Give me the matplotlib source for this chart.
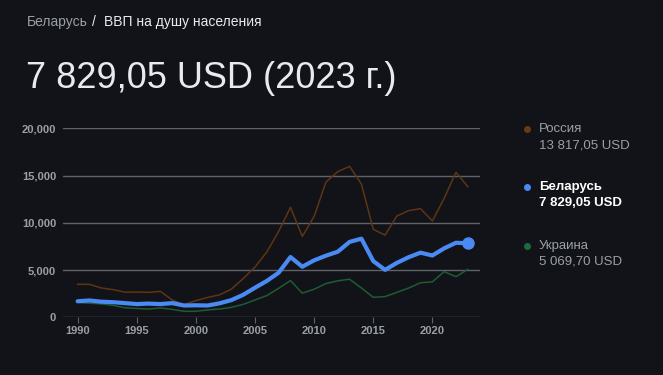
import numpy as np
import matplotlib.pyplot as plt
from matplotlib.lines import Line2D

years = list(range(1990, 2024))

# GDP per capita, USD
russia = [3490, 3490, 3100, 2930, 2660, 2670, 2640, 2740, 1830, 1330,
          1770, 2100, 2380, 2980, 4100, 5320, 6920, 9100, 11635, 8560,
          10675, 14310, 15420, 15970, 14100, 9310, 8700, 10720, 11290, 11500,
          10190, 12600, 15350, 13817.05]
belarus = [1700, 1780, 1650, 1600, 1500, 1400, 1450, 1400, 1500, 1250,
           1270, 1250, 1480, 1820, 2380, 3130, 3850, 4720, 6380, 5350,
           6030, 6520, 6940, 7980, 8320, 5950, 5020, 5760, 6360, 6840,
           6540, 7300, 7890, 7829.05]
ukraine = [1570, 1490, 1420, 1260, 1010, 936, 873, 993, 835, 636,
           636, 781, 879, 1050, 1370, 1830, 2300, 3070, 3890, 2550,
           2970, 3570, 3860, 4030, 3100, 2120, 2190, 2640, 3100, 3660,
           3750, 4830, 4300, 5069.70]

names = ["Россия", "Беларусь", "Украина"]
last_values = ["13 817,05 USD", "7 829,05 USD", "5 069,70 USD"]

bg = "#121318"
grid_c = "#5f6368"
tick_c = "#9aa0a6"
c_ru = "#5e3512"
c_by = "#4a8af4"
c_ua = "#1d5c34"

plt.rcParams['font.family'] = ['Liberation Sans', 'DejaVu Sans']

fig = plt.figure(figsize=(6.63, 3.75), dpi=100, facecolor=bg)
ax = fig.add_axes([63 / 663, 1 - 317.3 / 375, (480 - 63) / 663, (317.3 - 128.3) / 375])
ax.set_facecolor(bg)

ax.plot(years, russia, color=c_ru, lw=1.1, zorder=2)
ax.plot(years, ukraine, color=c_ua, lw=1.1, zorder=2)
ax.plot(years, belarus, color=c_by, lw=3, zorder=3, solid_capstyle='round')
ax.plot(years[-1], belarus[-1], 'o', color=c_by, ms=8, zorder=4, clip_on=False)

ax.set_xlim(1988.76, 2024.03)
ax.set_ylim(0, 20000)
ax.set_yticks([0, 5000, 10000, 15000, 20000])
ax.set_yticklabels(["0", "5,000", "10,000", "15,000", "20,000"])
ax.set_xticks(range(1990, 2021, 5))
ax.yaxis.grid(True, color=grid_c, lw=1)
for s in ax.spines.values():
    s.set_visible(False)
ax.tick_params(axis='y', length=0, pad=5, labelcolor=tick_c, labelsize=8)
ax.tick_params(axis='x', length=4, color=grid_c, pad=2, labelcolor=tick_c, labelsize=8)
for lab in ax.get_xticklabels() + ax.get_yticklabels():
    lab.set_fontweight('bold')

# header
fig.text(27 / 663, 1 - 22 / 375, "Беларусь", color=tick_c, fontsize=10, va='center')
fig.text(92 / 663, 1 - 22 / 375, "/", color="#e8eaed", fontsize=10, va='center')
fig.text(104 / 663, 1 - 22 / 375, "ВВП на душу населения", color="#e8eaed", fontsize=10, va='center')
fig.text(26 / 663, 1 - 79 / 375, "7 829,05 USD (2023 г.)", color="#e8eaed", fontsize=26, va='center')

# legend
leg_y = [129, 187, 246]
dot_colors = ["#6b3a12", c_by, "#1c6b3a"]
for i in range(3):
    y = 1 - leg_y[i] / 375
    y2 = 1 - (leg_y[i] + 16) / 375
    fig.add_artist(Line2D([527 / 663], [y], marker='o', ms=4, color=dot_colors[i],
                          transform=fig.transFigure))
    if i == 1:
        fig.text(539 / 663, y, names[i], color="#ffffff", fontsize=9.5, va='center', fontweight='bold')
        fig.text(539 / 663, y2, last_values[i], color="#ffffff", fontsize=9.5, va='center', fontweight='bold')
    else:
        fig.text(539 / 663, y, names[i], color=tick_c, fontsize=9.5, va='center')
        fig.text(539 / 663, y2, last_values[i], color=tick_c, fontsize=9.5, va='center')

fig.savefig("out.png", dpi=100, facecolor=bg)
